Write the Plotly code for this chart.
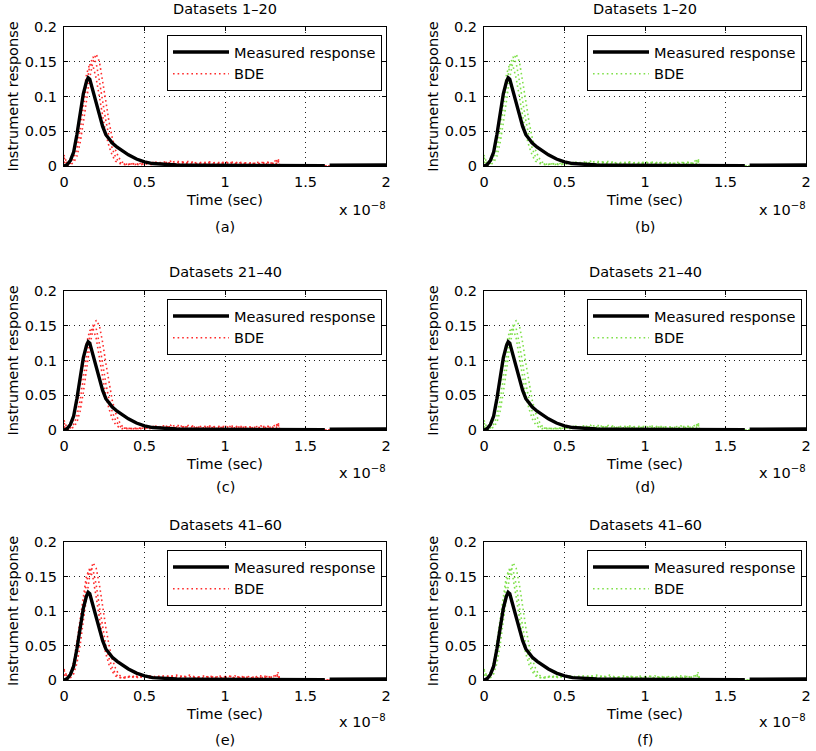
import plotly.graph_objects as go

# ---------------- data (time in units of 1e-8 s) ----------------
MEAS_T = [0.00, 0.02, 0.04, 0.06, 0.08, 0.10, 0.12, 0.14, 0.15, 0.16, 0.18, 0.20, 0.22, 0.24,
          0.26, 0.28, 0.30, 0.33, 0.36, 0.40, 0.45, 0.50, 0.55, 0.60, 0.70, 0.80, 1.00, 1.20,
          1.40, 1.62, 1.63, 1.65, 1.80, 2.00]
MEAS_Y = [0.000, 0.002, 0.008, 0.020, 0.045, 0.075, 0.104, 0.122, 0.127, 0.125, 0.108, 0.089,
          0.072, 0.057, 0.045, 0.038, 0.033, 0.027, 0.022, 0.016, 0.010, 0.006, 0.0035, 0.0025,
          0.0014, 0.0010, 0.0007, 0.0005, 0.0004, 0.0003, None, 0.0012, 0.0012, 0.0015]

PEAK_T = [0.00, 0.02, 0.04, 0.06, 0.08, 0.10, 0.12, 0.14, 0.16, 0.18, 0.20, 0.22, 0.24,
          0.26, 0.28, 0.30, 0.32, 0.34, 0.36, 0.38, 0.40, 0.42, 0.44, 0.46, 0.48, 0.50]

# Datasets 1-20
R1_A = [0.012, 0.003, 0.004, 0.010, 0.025, 0.050, 0.085, 0.118, 0.145, 0.157, 0.148, 0.122, 0.092,
        0.065, 0.042, 0.025, 0.013, 0.006, 0.003, 0.002, 0.003, 0.002, 0.004, 0.002, 0.003, 0.004]
R1_B = [0.016, 0.002, 0.008, 0.020, 0.042, 0.072, 0.105, 0.132, 0.147, 0.144, 0.126, 0.098, 0.070,
        0.046, 0.028, 0.015, 0.007, 0.004, 0.002, 0.003, 0.002, 0.004, 0.002, 0.003, 0.002, 0.003]
R1_C = [0.006, 0.001, 0.002, 0.005, 0.014, 0.033, 0.062, 0.095, 0.127, 0.150, 0.161, 0.150, 0.124,
        0.093, 0.063, 0.040, 0.023, 0.012, 0.006, 0.003, 0.002, 0.003, 0.002, 0.003, 0.004, 0.002]
# Datasets 21-40
R2_A = [0.010, 0.002, 0.003, 0.008, 0.020, 0.042, 0.075, 0.108, 0.135, 0.150, 0.146, 0.124, 0.095,
        0.067, 0.044, 0.026, 0.014, 0.007, 0.003, 0.002, 0.002, 0.003, 0.001, 0.002, 0.003, 0.002]
R2_B = [0.014, 0.002, 0.006, 0.016, 0.035, 0.062, 0.095, 0.125, 0.143, 0.146, 0.132, 0.104, 0.074,
        0.049, 0.030, 0.016, 0.008, 0.004, 0.002, 0.002, 0.003, 0.002, 0.002, 0.003, 0.002, 0.002]
R2_C = [0.005, 0.001, 0.002, 0.004, 0.011, 0.027, 0.054, 0.088, 0.120, 0.145, 0.158, 0.150, 0.126,
        0.096, 0.066, 0.042, 0.025, 0.013, 0.006, 0.003, 0.002, 0.002, 0.003, 0.002, 0.002, 0.003]
# Datasets 41-60
R3_A = [0.014, 0.003, 0.006, 0.016, 0.038, 0.070, 0.108, 0.142, 0.163, 0.160, 0.138, 0.106, 0.075,
        0.050, 0.031, 0.018, 0.009, 0.004, 0.003, 0.004, 0.006, 0.003, 0.007, 0.004, 0.006, 0.005]
R3_B = [0.016, 0.004, 0.010, 0.026, 0.055, 0.090, 0.125, 0.152, 0.160, 0.148, 0.120, 0.088, 0.060,
        0.038, 0.022, 0.012, 0.006, 0.003, 0.004, 0.003, 0.005, 0.004, 0.006, 0.003, 0.005, 0.007]
R3_C = [0.008, 0.001, 0.003, 0.009, 0.024, 0.050, 0.086, 0.122, 0.152, 0.170, 0.162, 0.138, 0.106,
        0.076, 0.050, 0.030, 0.017, 0.008, 0.004, 0.003, 0.004, 0.005, 0.003, 0.006, 0.004, 0.006]

TAIL_T = [0.54, 0.58, 0.62, 0.66, 0.70, 0.74, 0.78, 0.82, 0.86, 0.90, 0.94, 0.98, 1.02, 1.06,
          1.10, 1.14, 1.18, 1.22, 1.26, 1.30, 1.32, 1.33, 1.34, 2.00]
TAIL_A = [0.004, 0.006, 0.003, 0.005, 0.007, 0.004, 0.005, 0.003, 0.006, 0.004, 0.005, 0.003,
          0.004, 0.006, 0.003, 0.005, 0.004, 0.003, 0.005, 0.004, 0.007, 0.011, 0.000, 0.000]
TAIL_B = [0.002, 0.004, 0.006, 0.003, 0.004, 0.006, 0.002, 0.005, 0.003, 0.005, 0.002, 0.004,
          0.006, 0.003, 0.005, 0.002, 0.004, 0.006, 0.003, 0.005, 0.009, 0.006, 0.000, 0.000]
TAIL_C = [0.006, 0.003, 0.004, 0.007, 0.002, 0.005, 0.007, 0.004, 0.002, 0.006, 0.004, 0.006,
          0.002, 0.004, 0.005, 0.004, 0.002, 0.004, 0.006, 0.002, 0.004, 0.008, 0.000, 0.000]

TITLES = ["Datasets 1\u201320", "Datasets 21\u201340", "Datasets 41\u201360"]
LETTERS = [["(a)", "(b)"], ["(c)", "(d)"], ["(e)", "(f)"]]
X_LABEL = "Time (sec)"
Y_LABEL = "Instrument response"
ROW_BDE = [[R1_A, R1_B, R1_C], [R2_A, R2_B, R2_C], [R3_A, R3_B, R3_C]]
TAILS = [TAIL_A, TAIL_B, TAIL_C]
X_TICKS = [0, 0.5, 1, 1.5, 2]
Y_TICKS = [0, 0.05, 0.1, 0.15, 0.2]

# ---------------- layout geometry (page pixels) ----------------
W, H = 816, 751

COLORS = ["#ff2b2b", "#7fe04a"]
COL_PX = [(64, 386), (484, 806)]
# top, bottom, title, x10 label, letter
ROW_PX = [(27, 166, 9, 209, 227),
          (291, 430, 272, 472, 487),
          (542, 680, 525, 721, 740)]

FONT = "DejaVu Sans, Liberation Sans, Arial, sans-serif"
FS = 14.5


def fx(v):
    return v / W


def fy(v):
    return 1 - v / H


fig = go.Figure()
layout = dict(width=W, height=H, margin=dict(l=0, r=0, t=0, b=0, autoexpand=False),
              paper_bgcolor="white", plot_bgcolor="white",
              font=dict(family=FONT, size=FS, color="black"),
              showlegend=True)
annotations = []

k = 0
for r in range(3):
    top, bot, ttl, x10, let = ROW_PX[r]
    for c in range(2):
        k += 1
        xa = "x" if k == 1 else f"x{k}"
        ya = "y" if k == 1 else f"y{k}"
        lg = "legend" if k == 1 else f"legend{k}"
        left, right = COL_PX[c]
        color = COLORS[c]
        for i, (pk, tl) in enumerate(zip(ROW_BDE[r], TAILS)):
            fig.add_trace(go.Scatter(
                x=PEAK_T + TAIL_T, y=pk + tl, mode="lines", name="BDE",
                line=dict(color=color, width=1.6, dash="1.6px,3px"),
                xaxis=xa, yaxis=ya, legend=lg, legendrank=2,
                showlegend=(i == 0), hoverinfo="skip"))
        fig.add_trace(go.Scatter(
            x=MEAS_T, y=MEAS_Y, mode="lines", name="Measured response",
            line=dict(color="black", width=3.4), connectgaps=False,
            xaxis=xa, yaxis=ya, legend=lg, legendrank=1, hoverinfo="skip"))

        axcommon = dict(showline=True, linecolor="black", linewidth=1, mirror="ticks",
                        ticks="inside", ticklen=4, tickcolor="black",
                        showgrid=True, gridcolor="#222222", gridwidth=1, griddash="1px,4px",
                        zeroline=False, automargin=False,
                        tickfont=dict(family=FONT, size=FS, color="black"))
        layout["xaxis" if k == 1 else f"xaxis{k}"] = dict(
            domain=[fx(left), fx(right)], anchor=ya, range=[0, 2],
            tickvals=X_TICKS, ticklabelstandoff=3,
            title=dict(text=X_LABEL, standoff=5, font=dict(family=FONT, size=FS)),
            **axcommon)
        layout["yaxis" if k == 1 else f"yaxis{k}"] = dict(
            domain=[fy(bot), fy(top)], anchor=xa, range=[0, 0.2],
            tickvals=Y_TICKS, ticklabelstandoff=3,
            title=dict(text=Y_LABEL, standoff=2, font=dict(family=FONT, size=FS)),
            **axcommon)
        layout[lg] = dict(x=fx(right - 4), xanchor="right", y=fy(top + 8), yanchor="top",
                          bgcolor="white", bordercolor="black", borderwidth=1,
                          font=dict(family=FONT, size=FS, color="black"),
                          tracegroupgap=0, itemwidth=56)

        cx = fx((left + right) / 2)
        annotations += [
            dict(text=TITLES[r], x=cx, y=fy(ttl), xref="paper", yref="paper",
                 xanchor="center", yanchor="middle", showarrow=False),
            dict(text="x 10<sup>\u22128</sup>", x=fx(right + 2), y=fy(x10), xref="paper",
                 yref="paper", xanchor="right", yanchor="middle", showarrow=False),
            dict(text=LETTERS[r][c], x=cx, y=fy(let), xref="paper", yref="paper",
                 xanchor="center", yanchor="middle", showarrow=False),
        ]

layout["annotations"] = annotations
fig.update_layout(**layout)
# remove the browser's default 8px body margin so the figure fills the window exactly
fig.write_html("out.html", config={"displayModeBar": False},
               post_script="document.body.style.margin='0px';")
